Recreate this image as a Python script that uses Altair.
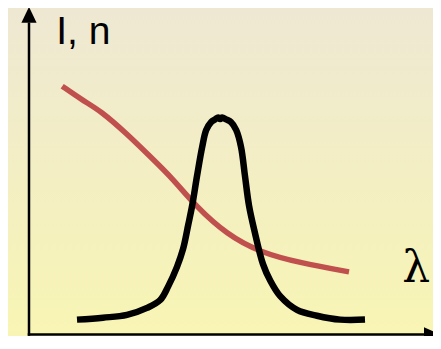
import altair as alt
import pandas as pd

# Red curve (refractive index n)
n_x = [0.83, 1.35, 1.78, 2.45, 3.03, 3.6, 4.15, 4.95, 5.78, 6.78, 8.0]
n_y = [6.35, 5.98, 5.73, 5.13, 4.55, 3.98, 3.3, 2.55, 2.1, 1.83, 1.6]

# Black curve (intensity I)
i_x = [1.2, 1.85, 2.45, 2.95, 3.28, 3.48, 3.7, 3.85, 3.98, 4.08, 4.2, 4.33,
       4.43, 4.55, 4.65, 4.73, 4.78, 4.83, 4.93, 5.05, 5.18, 5.3, 5.4, 5.5,
       5.63, 5.85, 6.03, 6.28, 6.7, 7.2, 7.78, 8.4]
i_y = [0.38, 0.43, 0.5, 0.68, 0.88, 1.23, 1.73, 2.18, 2.8, 3.3, 4.05, 4.8,
       5.23, 5.43, 5.5, 5.55, 5.51, 5.55, 5.5, 5.43, 5.23, 4.8, 4.05, 3.3,
       2.68, 1.8, 1.38, 0.98, 0.63, 0.48, 0.38, 0.38]

labels = ["I, n", "λ"]

W, H = 425, 328
xs = alt.Scale(domain=[-0.525, 10.1], nice=False, zero=False)
ys = alt.Scale(domain=[-0.039, 8.35], nice=False, zero=False)

bg = alt.Chart(pd.DataFrame({"a": [0]})).mark_rect(
    color=alt.Gradient(
        gradient="linear",
        stops=[alt.GradientStop(color="#EEE8D3", offset=0),
               alt.GradientStop(color="#F8F5B4", offset=1)],
        x1=0, x2=0, y1=0, y2=1,
    )
).encode(x=alt.value(0), x2=alt.value(W), y=alt.value(0), y2=alt.value(H))

axes_df = pd.DataFrame({"x": [0, 0], "y": [0, 0], "x2": [0, 9.88], "y2": [7.95, 0]})
axes = alt.Chart(axes_df).mark_rule(color="black", strokeWidth=2.5, strokeCap="square").encode(
    x=alt.X("x:Q", scale=xs, axis=None),
    y=alt.Y("y:Q", scale=ys, axis=None),
    x2="x2:Q", y2="y2:Q",
)

up = alt.Chart(pd.DataFrame({"x": [0], "y": [8.175]})).mark_point(
    shape="M0,-1L0.95,1L-0.95,1Z", size=256, filled=True, color="black", opacity=1, strokeWidth=0
).encode(x=alt.X("x:Q", scale=xs, axis=None), y=alt.Y("y:Q", scale=ys, axis=None))

right = alt.Chart(pd.DataFrame({"x": [10.075], "y": [0]})).mark_point(
    shape="M1,0L-1,-0.9L-1,0.9Z", size=256, filled=True, color="black", opacity=1, strokeWidth=0
).encode(x=alt.X("x:Q", scale=xs, axis=None), y=alt.Y("y:Q", scale=ys, axis=None))

red = alt.Chart(pd.DataFrame({"x": n_x, "y": n_y})).mark_line(
    color="#C0504D", strokeWidth=5.5, interpolate="basis", strokeCap="butt"
).encode(x=alt.X("x:Q", scale=xs, axis=None), y=alt.Y("y:Q", scale=ys, axis=None))

black = alt.Chart(pd.DataFrame({"x": i_x, "y": i_y})).mark_line(
    color="black", strokeWidth=6.5, interpolate="catmull-rom", strokeCap="butt"
).encode(x=alt.X("x:Q", scale=xs, axis=None), y=alt.Y("y:Q", scale=ys, axis=None))

t1 = alt.Chart(pd.DataFrame({"x": [0.68], "y": [7.43], "t": [labels[0]]})).mark_text(
    font="Liberation Sans", fontSize=39, align="left", baseline="alphabetic", color="black"
).encode(x=alt.X("x:Q", scale=xs, axis=None), y=alt.Y("y:Q", scale=ys, axis=None), text="t:N")

t2 = alt.Chart(pd.DataFrame({"x": [9.33], "y": [1.33], "t": [labels[1]]})).mark_text(
    font="DejaVu Serif", fontSize=44, align="left", baseline="alphabetic", color="black"
).encode(x=alt.X("x:Q", scale=xs, axis=None), y=alt.Y("y:Q", scale=ys, axis=None), text="t:N")

chart = alt.layer(bg, axes, up, right, red, black, t1, t2).properties(
    width=W, height=H, padding=0, autosize="none", background="#F3EEC4"
).configure_view(strokeWidth=0)

chart.save("out.html", embed_options={"renderer": "svg", "actions": False})
